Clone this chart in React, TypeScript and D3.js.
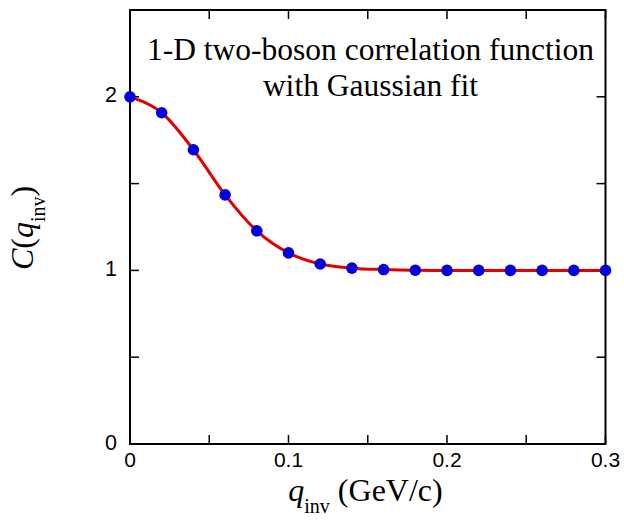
import React from "react";
import * as d3 from "d3";

const qValues = [0, 0.02, 0.04, 0.06, 0.08, 0.1, 0.12, 0.14, 0.16, 0.18, 0.2, 0.22, 0.24, 0.26, 0.28, 0.3];
const cValues = [2.0, 1.908, 1.695, 1.435, 1.228, 1.101, 1.037, 1.013, 1.005, 1.001, 1.0, 1.0, 1.0, 1.0, 1.0, 1.0];
const xMajorTicks = [0, 0.1, 0.2, 0.3];
const xMinorTicks = [0.05, 0.15, 0.25];
const yMajorTicks = [0, 1, 2];
const yMinorTicks = [0.5, 1.5];
const titleLines = ["1-D two-boson correlation function", "with Gaussian fit"];

export default function App() {
  const L = 130, R = 605.5, T = 10, B = 444;
  const x = d3.scaleLinear().domain([0, 0.3]).range([L, R]);
  const y = d3.scaleLinear().domain([0, 2.5]).range([B, T]);
  const data = qValues.map((q, i) => ({ q, c: cValues[i] }));
  const line = d3.line<{ q: number; c: number }>()
    .x(d => x(d.q))
    .y(d => y(d.c))
    .curve(d3.curveMonotoneX);
  const tk = 9;
  const sans = "'Liberation Sans', Arial, sans-serif";
  const serif = "'Liberation Serif', 'Times New Roman', serif";
  return (
    <svg width={624} height={520} style={{ position: "absolute", left: 0, top: 0, background: "#fff" }}>
      <rect x={0} y={0} width={624} height={520} fill="#fff" />
      {/* ticks */}
      {xMajorTicks.concat(xMinorTicks).map((t, i) => (
        <g key={"xt" + i} stroke="#000" strokeWidth={1.5}>
          <line x1={x(t)} x2={x(t)} y1={B} y2={B - tk} />
          <line x1={x(t)} x2={x(t)} y1={T} y2={T + tk} />
        </g>
      ))}
      {yMajorTicks.concat(yMinorTicks).map((t, i) => (
        <g key={"yt" + i} stroke="#000" strokeWidth={1.5}>
          <line x1={L} x2={L + tk} y1={y(t)} y2={y(t)} />
          <line x1={R} x2={R - tk} y1={y(t)} y2={y(t)} />
        </g>
      ))}
      <rect x={L} y={T} width={R - L} height={B - T} fill="none" stroke="#000" strokeWidth={2} />
      {/* tick labels */}
      {xMajorTicks.map((t, i) => (
        <text key={"xl" + i} x={x(t)} y={467} textAnchor="middle" fontFamily={sans} fontSize={21}>
          {t === 0 ? "0" : d3.format(".1f")(t)}
        </text>
      ))}
      {yMajorTicks.map((t, i) => (
        <text key={"yl" + i} x={117} y={y(t) + 5.5} textAnchor="end" fontFamily={sans} fontSize={21.5}>
          {String(t)}
        </text>
      ))}
      {/* title */}
      {titleLines.map((s, i) => (
        <text key={"tt" + i} x={370.5} y={60 + i * 35.5} textAnchor="middle" fontFamily={serif} fontSize={31.5}>
          {s}
        </text>
      ))}
      {/* curve and points */}
      <path d={line(data) || ""} fill="none" stroke="#e00000" strokeWidth={3} />
      {data.map((d, i) => (
        <circle key={"p" + i} cx={x(d.q)} cy={y(d.c)} r={5.8} fill="#0000dd" />
      ))}
      {/* x axis label */}
      <text x={365.5} y={501} textAnchor="middle" fontFamily={serif} fontSize={32}>
        <tspan fontStyle="italic">q</tspan>
        <tspan fontSize={20} dy={12}>inv</tspan>
        <tspan dy={-12}> (GeV/c)</tspan>
      </text>
      {/* y axis label */}
      <text transform="translate(33,228) rotate(-90)" textAnchor="middle" fontFamily={serif} fontSize={32}>
        <tspan fontStyle="italic">C</tspan>
        <tspan>(</tspan>
        <tspan fontStyle="italic">q</tspan>
        <tspan fontSize={20} dy={12}>inv</tspan>
        <tspan dy={-12}>)</tspan>
      </text>
    </svg>
  );
}
